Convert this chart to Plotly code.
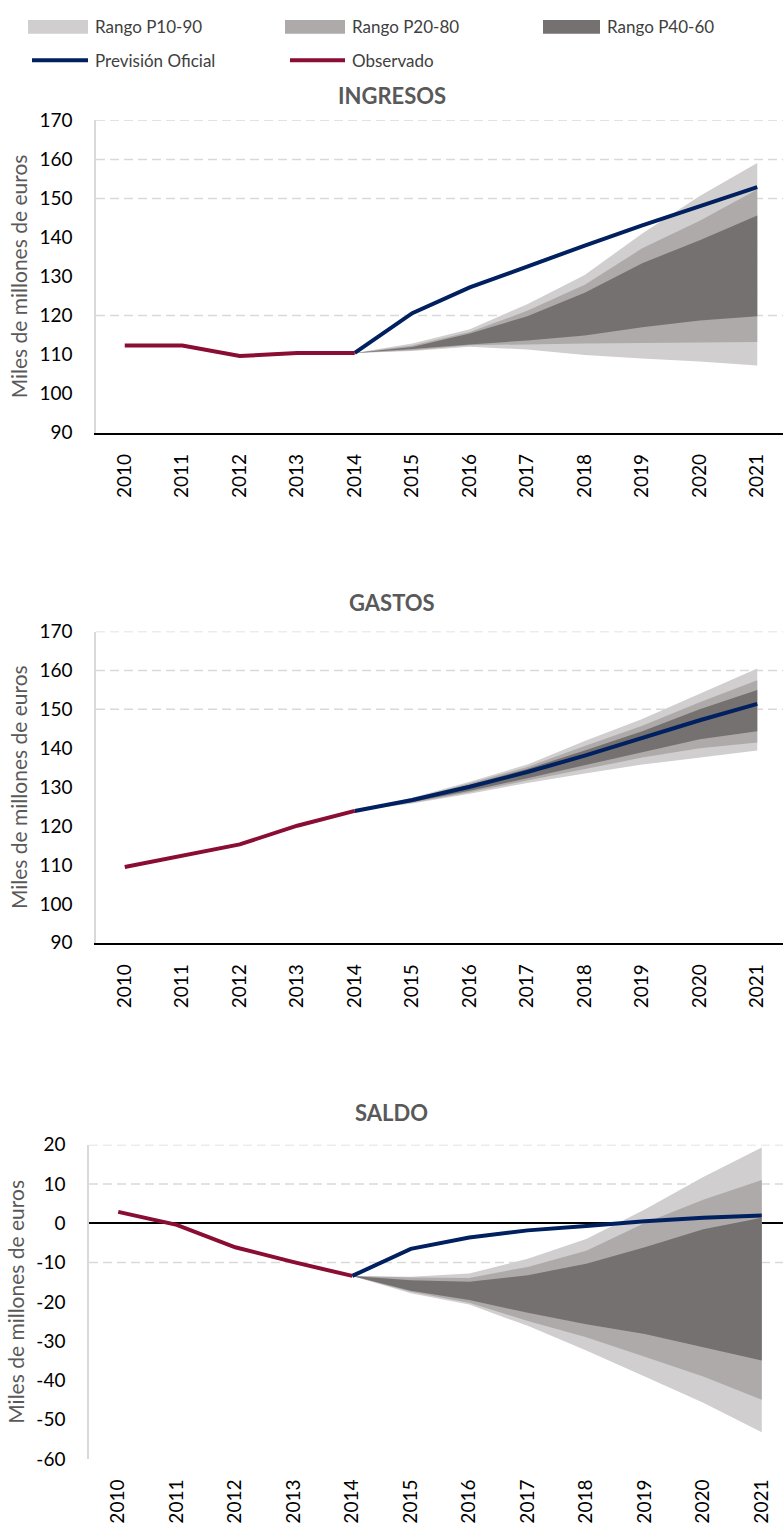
import plotly.graph_objects as go

# ---------------- data ----------------
YEARS = [2010, 2011, 2012, 2013, 2014, 2015, 2016, 2017, 2018, 2019, 2020, 2021]
OBS_YEARS = [2010, 2011, 2012, 2013, 2014]
FC_YEARS = [2014, 2015, 2016, 2017, 2018, 2019, 2020, 2021]

# INGRESOS
ING_OBS = [112.3, 112.3, 109.6, 110.4, 110.4]
ING_PREV = [110.4, 120.6, 127.2, 132.6, 137.9, 143.1, 148.1, 152.9]
ING_P10 = [110.4, 110.9, 112.0, 111.3, 109.9, 109.0, 108.2, 107.2]
ING_P20 = [110.4, 111.1, 112.4, 112.6, 112.8, 113.0, 113.1, 113.2]
ING_P40 = [110.4, 111.4, 112.6, 113.6, 114.9, 117.0, 118.7, 119.8]
ING_P60 = [110.4, 111.9, 115.4, 119.8, 125.8, 133.4, 139.3, 145.6]
ING_P80 = [110.4, 112.3, 115.8, 121.2, 127.9, 137.2, 144.3, 152.3]
ING_P90 = [110.4, 112.8, 116.5, 122.9, 130.4, 141.0, 150.6, 159.1]

# GASTOS
GAS_OBS = [109.5, 112.3, 115.3, 120.1, 123.9]
GAS_PREV = [123.9, 126.7, 130.1, 133.9, 138.1, 142.7, 147.2, 151.4]
GAS_P10 = [123.9, 125.8, 128.3, 131.1, 133.5, 135.8, 137.6, 139.4]
GAS_P20 = [123.9, 126.0, 128.7, 131.7, 134.7, 137.6, 140.0, 141.5]
GAS_P40 = [123.9, 126.2, 129.1, 132.3, 135.6, 139.0, 142.3, 144.4]
GAS_P60 = [123.9, 126.9, 130.6, 134.7, 139.4, 144.4, 150.0, 155.0]
GAS_P80 = [123.9, 127.1, 131.0, 135.2, 140.6, 145.8, 151.8, 157.5]
GAS_P90 = [123.9, 127.3, 131.4, 135.8, 141.9, 147.5, 154.0, 160.5]

# SALDO
SAL_OBS = [2.9, -0.4, -6.1, -9.9, -13.4]
SAL_PREV = [-13.4, -6.5, -3.6, -1.8, -0.7, 0.5, 1.4, 2.0]
SAL_P10 = [-13.4, -17.8, -20.7, -26.1, -32.4, -39.0, -45.7, -53.2]
SAL_P20 = [-13.4, -17.4, -20.2, -24.9, -29.0, -34.0, -39.0, -44.9]
SAL_P40 = [-13.4, -17.2, -19.5, -22.8, -25.7, -28.2, -31.5, -34.9]
SAL_P60 = [-13.4, -14.5, -14.9, -13.2, -10.3, -6.1, -1.5, 1.4]
SAL_P80 = [-13.4, -13.8, -13.9, -11.1, -7.0, 0.1, 6.0, 11.0]
SAL_P90 = [-13.4, -13.6, -12.8, -9.0, -4.0, 3.5, 11.8, 19.3]

# tick labels
TICKS_ING = [90, 100, 110, 120, 130, 140, 150, 160, 170]
TICKS_SAL = [-60, -50, -40, -30, -20, -10, 0, 10, 20]
TICKTEXT_SAL = ["-60", "-50", "-40", "-30", "-20", "-10", "0", "10", "20"]
GRID_ING = [170, 160, 150, 120]
GRID_GAS = [170, 160, 150]
GRID_SAL = [20, 10, -10]

TITLES = ["INGRESOS", "GASTOS", "SALDO"]
LEGEND_LABELS = ["Rango P10-90", "Rango P20-80", "Rango P40-60", "Previsión Oficial", "Observado"]

# ---------------- style ----------------
W, H = 783, 1533
C_LIGHT = "#d0cece"
C_MED = "#aeaaaa"
C_DARK = "#767171"
C_BLUE = "#002060"
C_RED = "#8a0d33"
C_GRID = "#d9d9d9"
FONT = "Lato"


def px_x(p):
    return p / W


def px_y(p):
    return 1 - p / H


fig = go.Figure()

panels = [
    dict(obs=ING_OBS, prev=ING_PREV, bands=[(ING_P10, ING_P90, C_LIGHT), (ING_P20, ING_P80, C_MED), (ING_P40, ING_P60, C_DARK)],
         top=110, bottom=427, left=96, step=57.5, rng=[90, 170], grid=GRID_ING, title_y=85),
    dict(obs=GAS_OBS, prev=GAS_PREV, bands=[(GAS_P10, GAS_P90, C_LIGHT), (GAS_P20, GAS_P80, C_MED), (GAS_P40, GAS_P60, C_DARK)],
         top=629, bottom=945, left=96, step=57.5, rng=[90, 170], grid=GRID_GAS, title_y=599),
    dict(obs=SAL_OBS, prev=SAL_PREV, bands=[(SAL_P10, SAL_P90, C_LIGHT), (SAL_P20, SAL_P80, C_MED), (SAL_P40, SAL_P60, C_DARK)],
         top=1150, bottom=1469, left=89, step=58.5, rng=[-60, 20], grid=GRID_SAL, title_y=1117),
]

layout_updates = {}
shapes = []
annotations = []

for i, p in enumerate(panels):
    n = "" if i == 0 else str(i + 1)
    xa, ya = "x" + n, "y" + n
    for lo, hi, col in p["bands"]:
        fig.add_trace(go.Scatter(
            x=FC_YEARS + FC_YEARS[::-1], y=hi + lo[::-1], fill="toself", fillcolor=col,
            mode="lines", line=dict(width=0, color=col), hoverinfo="skip", showlegend=False,
            xaxis=xa, yaxis=ya))
    fig.add_trace(go.Scatter(x=FC_YEARS, y=p["prev"], mode="lines", line=dict(color=C_BLUE, width=4),
                             showlegend=False, xaxis=xa, yaxis=ya, name="Previsión Oficial"))
    fig.add_trace(go.Scatter(x=OBS_YEARS, y=p["obs"], mode="lines", line=dict(color=C_RED, width=4),
                             showlegend=False, xaxis=xa, yaxis=ya, name="Observado"))

    xright = 2009.5 + (W - p["left"]) / p["step"]
    is_saldo = i == 2
    layout_updates["xaxis" + n] = dict(
        domain=[px_x(p["left"]), 1], range=[2009.5, xright], anchor=ya,
        tickmode="array", tickvals=YEARS, ticktext=[str(y) for y in YEARS], tickangle=-90,
        ticks="outside", ticklen=12, tickcolor="rgba(0,0,0,0)",
        tickfont=dict(family=FONT, size=19, color="black"),
        showgrid=False, zeroline=False,
        showline=not is_saldo, linecolor="black", linewidth=1.5)
    yax = dict(
        domain=[px_y(p["bottom"]), px_y(p["top"])], range=p["rng"], anchor=xa,
        tickmode="array", tickvals=TICKS_SAL if is_saldo else TICKS_ING,
        ticks="outside", ticklen=18, tickcolor="rgba(0,0,0,0)",
        tickfont=dict(family=FONT, size=19, color="black"),
        showgrid=False, showline=True, linecolor=C_GRID, linewidth=1.5,
        zeroline=is_saldo, zerolinecolor="black", zerolinewidth=1.5,
        title=dict(text="Miles de millones de euros", font=dict(family=FONT, size=21, color="#595959"), standoff=6))
    if is_saldo:
        yax["ticktext"] = TICKTEXT_SAL
    layout_updates["yaxis" + n] = yax

    for g in p["grid"]:
        shapes.append(dict(type="line", xref=xa + " domain", x0=0, x1=1, yref=ya, y0=g, y1=g,
                           line=dict(color=C_GRID, width=1.5, dash="9px,5px"), layer="below"))

    annotations.append(dict(text="<b>" + TITLES[i] + "</b>", xref="paper", yref="paper",
                            x=0.5, y=px_y(p["title_y"]), xanchor="center", yanchor="middle",
                            showarrow=False, font=dict(family=FONT, size=22, color="#595959")))

# ---------------- legend (manual, two rows) ----------------
leg_items = [
    (LEGEND_LABELS[0], "rect", C_LIGHT, 28, 88, 15),
    (LEGEND_LABELS[1], "rect", C_MED, 285, 345, 15),
    (LEGEND_LABELS[2], "rect", C_DARK, 543, 600, 15),
    (LEGEND_LABELS[3], "line", C_BLUE, 32, 88, 49),
    (LEGEND_LABELS[4], "line", C_RED, 290, 345, 49),
]
for label, kind, col, x0, x1, yc in leg_items:
    if kind == "rect":
        shapes.append(dict(type="rect", xref="paper", yref="paper", x0=px_x(x0), x1=px_x(x1),
                           y0=px_y(yc + 7), y1=px_y(yc - 7), fillcolor=col, line=dict(width=0)))
    else:
        shapes.append(dict(type="line", xref="paper", yref="paper", x0=px_x(x0), x1=px_x(x1),
                           y0=px_y(yc), y1=px_y(yc), line=dict(color=col, width=4)))
    annotations.append(dict(text=label, xref="paper", yref="paper", x=px_x(x1 + 5), y=px_y(yc),
                            xanchor="left", yanchor="middle", showarrow=False,
                            font=dict(family=FONT, size=17, color="#404040")))

fig.update_layout(
    width=W, height=H, margin=dict(l=0, r=0, t=0, b=0),
    paper_bgcolor="white", plot_bgcolor="white",
    showlegend=False, shapes=shapes, annotations=annotations,
    **layout_updates)

fig.write_html("out.html")
